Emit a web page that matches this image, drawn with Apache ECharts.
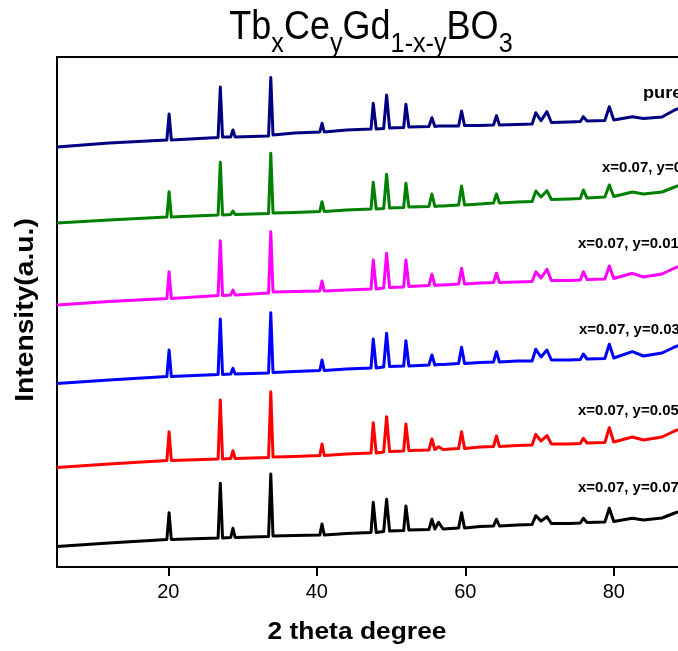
<!DOCTYPE html>
<html>
<head>
<meta charset="utf-8">
<script src="https://cdn.jsdelivr.net/npm/echarts@6/dist/echarts.min.js"></script>
<style>
  html, body { margin: 0; padding: 0; background: #ffffff; }
  #chart { width: 678px; height: 651px; }
</style>
</head>
<body>
<div id="chart"></div>
<script>
// Diffraction angles (2θ, degrees) shared by every pattern
const twoTheta = [
  5, 12, 19.8, 20.1, 20.4, 26.7, 27.0, 27.3, 28.4, 28.7, 29.0,
  33.5, 33.8, 34.1, 37, 40.4, 40.7, 41.0, 44, 47.3, 47.6, 48.0,
  49.0, 49.4, 49.8, 51.7, 52.0, 52.4, 55.1, 55.5, 55.9, 56.4, 57,
  59.1, 59.5, 59.9, 62, 63.8, 64.2, 64.6, 67, 69.0, 69.5, 70.2,
  71.0, 71.6, 74, 75.5, 75.9, 76.4, 78.8, 79.4, 80.0, 82.5, 84,
  86.5, 88.2, 90
];

// Stacked intensities (a.u.), one pattern per sample
const intensityPure = [
  4200, 4240, 4270, 4530, 4270, 4295, 4800, 4300, 4300, 4370, 4300,
  4310, 4895, 4320, 4340, 4350, 4437, 4350, 4370, 4380, 4637, 4380,
  4385, 4720, 4390, 4395, 4627, 4400, 4405, 4493, 4405, 4410, 4410,
  4410, 4560, 4415, 4415, 4420, 4513, 4420, 4425, 4430, 4543, 4463,
  4553, 4445, 4450, 4455, 4503, 4460, 4465, 4603, 4470, 4503, 4485,
  4500, 4570, 4620
];
const intensityY000 = [
  3440, 3470, 3500, 3753, 3500, 3520, 4047, 3520, 3525, 3560, 3525,
  3535, 4137, 3540, 3545, 3555, 3653, 3555, 3570, 3580, 3847, 3580,
  3585, 3927, 3590, 3595, 3837, 3600, 3605, 3730, 3605, 3610, 3610,
  3620, 3810, 3620, 3630, 3640, 3730, 3640, 3650, 3655, 3760, 3700,
  3763, 3675, 3680, 3685, 3770, 3690, 3700, 3820, 3705, 3750, 3730,
  3750, 3800, 3850
];
const intensityY001 = [
  2620, 2655, 2685, 2953, 2685, 2715, 3263, 2715, 2720, 2770, 2720,
  2740, 3353, 2750, 2755, 2760, 2860, 2760, 2770, 2780, 3070, 2780,
  2790, 3137, 2795, 2800, 3070, 2805, 2815, 2927, 2815, 2820, 2820,
  2830, 2987, 2830, 2840, 2845, 2937, 2845, 2850, 2855, 2953, 2890,
  2977, 2865, 2865, 2870, 2953, 2875, 2880, 3010, 2885, 2937, 2900,
  2930, 2990, 3040
];
const intensityY003 = [
  1835, 1870, 1905, 2170, 1905, 1925, 2480, 1925, 1930, 1987, 1930,
  1940, 2543, 1945, 1955, 1965, 2070, 1965, 1980, 1990, 2280, 1990,
  2000, 2337, 2005, 2010, 2263, 2010, 2020, 2120, 2020, 2025, 2025,
  2035, 2197, 2035, 2045, 2050, 2153, 2050, 2060, 2060, 2177, 2100,
  2170, 2070, 2070, 2075, 2130, 2080, 2085, 2227, 2090, 2153, 2110,
  2140, 2200, 2250
];
const intensityY005 = [
  995, 1030, 1065, 1353, 1065, 1080, 1670, 1080, 1085, 1163, 1085,
  1095, 1753, 1100, 1105, 1115, 1230, 1115, 1130, 1140, 1443, 1140,
  1150, 1503, 1155, 1160, 1430, 1165, 1170, 1280, 1175, 1203, 1175,
  1185, 1353, 1185, 1200, 1205, 1310, 1205, 1215, 1220, 1327, 1260,
  1313, 1230, 1230, 1235, 1287, 1240, 1245, 1393, 1250, 1300, 1270,
  1300, 1360, 1410
];
const intensityY007 = [
  205, 240, 275, 543, 275, 290, 837, 290, 295, 387, 295,
  305, 930, 310, 315, 320, 430, 320, 335, 345, 647, 345,
  355, 677, 360, 365, 610, 370, 375, 477, 380, 447, 380,
  390, 543, 390, 405, 410, 477, 410, 420, 425, 513, 460,
  503, 435, 435, 440, 487, 445, 450, 587, 455, 487, 470,
  490, 540, 580
];

const sampleNames = [
  'pure', 'x=0.07, y=0', 'x=0.07, y=0.01',
  'x=0.07, y=0.03', 'x=0.07, y=0.05', 'x=0.07, y=0.07'
];
const samplePatterns = [
  intensityPure, intensityY000, intensityY001,
  intensityY003, intensityY005, intensityY007
];
const xTickValues = [20, 40, 60, 80];

const sampleColors = ['#000080', '#008000', '#ff00ff', '#0000ff', '#ff0000', '#000000'];
// where each sample's caption sits: [left x, centre y]
const captionAnchors = [[643, 93], [602, 168], [578, 244], [579, 330], [578, 411], [578, 488]];

const FONT = '"Liberation Sans", Arial, sans-serif';

const series = samplePatterns.map((values, k) => ({
  name: sampleNames[k],
  type: 'line',
  symbol: 'none',
  smooth: false,
  animation: false,
  lineStyle: { color: sampleColors[k], width: 3, join: 'round' },
  itemStyle: { color: sampleColors[k] },
  data: twoTheta.map((t, i) => [t, values[i]])
}));

const captions = sampleNames.map((name, k) => ({
  type: 'text',
  x: captionAnchors[k][0],
  y: captionAnchors[k][1],
  scaleX: 1.07,
  z: 10,
  style: {
    text: name,
    fontFamily: FONT,
    fontWeight: 'bold',
    fontSize: k === 0 ? 17 : 14,
    fill: '#000',
    align: 'left',
    verticalAlign: 'middle'
  }
}));

const chart = echarts.init(document.getElementById('chart'), null, { renderer: 'canvas' });
chart.setOption({
  backgroundColor: '#ffffff',
  animation: false,
  grid: {
    left: 57, top: 57, width: 631, height: 510,
    show: true, borderColor: '#000', borderWidth: 2,
    containLabel: false, outerBoundsMode: 'none'
  },
  xAxis: {
    type: 'value',
    min: 5, max: 90,
    axisLine: { show: true, onZero: false, lineStyle: { color: '#000', width: 2 } },
    axisTick: { show: true, inside: false, length: 9, lineStyle: { color: '#000', width: 2 }, customValues: xTickValues },
    axisLabel: { fontFamily: FONT, fontSize: 20, color: '#000', margin: 15, customValues: xTickValues },
    splitLine: { show: false }
  },
  yAxis: {
    type: 'value',
    min: 0, max: 5100,
    axisLine: { show: true, lineStyle: { color: '#000', width: 2 } },
    axisTick: { show: false },
    axisLabel: { show: false },
    splitLine: { show: false }
  },
  graphic: [
    {
      // chart title with subscripted composition
      type: 'text',
      x: 371,
      y: 8,
      scaleX: 0.9,
      z: 10,
      style: {
        text: '{m|Tb}{s|x}{m|Ce}{s|y}{m|Gd}{s|1-x-y}{m|BO}{s|3}',
        align: 'center',
        verticalAlign: 'top',
        fill: '#000',
        rich: {
          m: { fontFamily: FONT, fontSize: 40, lineHeight: 40, verticalAlign: 'top', fill: '#000' },
          s: { fontFamily: FONT, fontSize: 28, lineHeight: 28, verticalAlign: 'top', padding: [22, 0, 0, 0], fill: '#000' }
        }
      }
    },
    {
      // x axis title
      type: 'text',
      x: 357,
      y: 632,
      scaleX: 1.1,
      z: 10,
      style: {
        text: '2 theta degree',
        fontFamily: FONT, fontWeight: 'bold', fontSize: 24, fill: '#000',
        align: 'center', verticalAlign: 'middle'
      }
    },
    {
      // y axis title
      type: 'text',
      x: 26,
      y: 310,
      rotation: Math.PI / 2,
      scaleX: 1.13,
      z: 10,
      style: {
        text: 'Intensity(a.u.)',
        fontFamily: FONT, fontWeight: 'bold', fontSize: 25, fill: '#000',
        align: 'center', verticalAlign: 'middle'
      }
    }
  ].concat(captions),
  series: series
});
</script>
</body>
</html>
